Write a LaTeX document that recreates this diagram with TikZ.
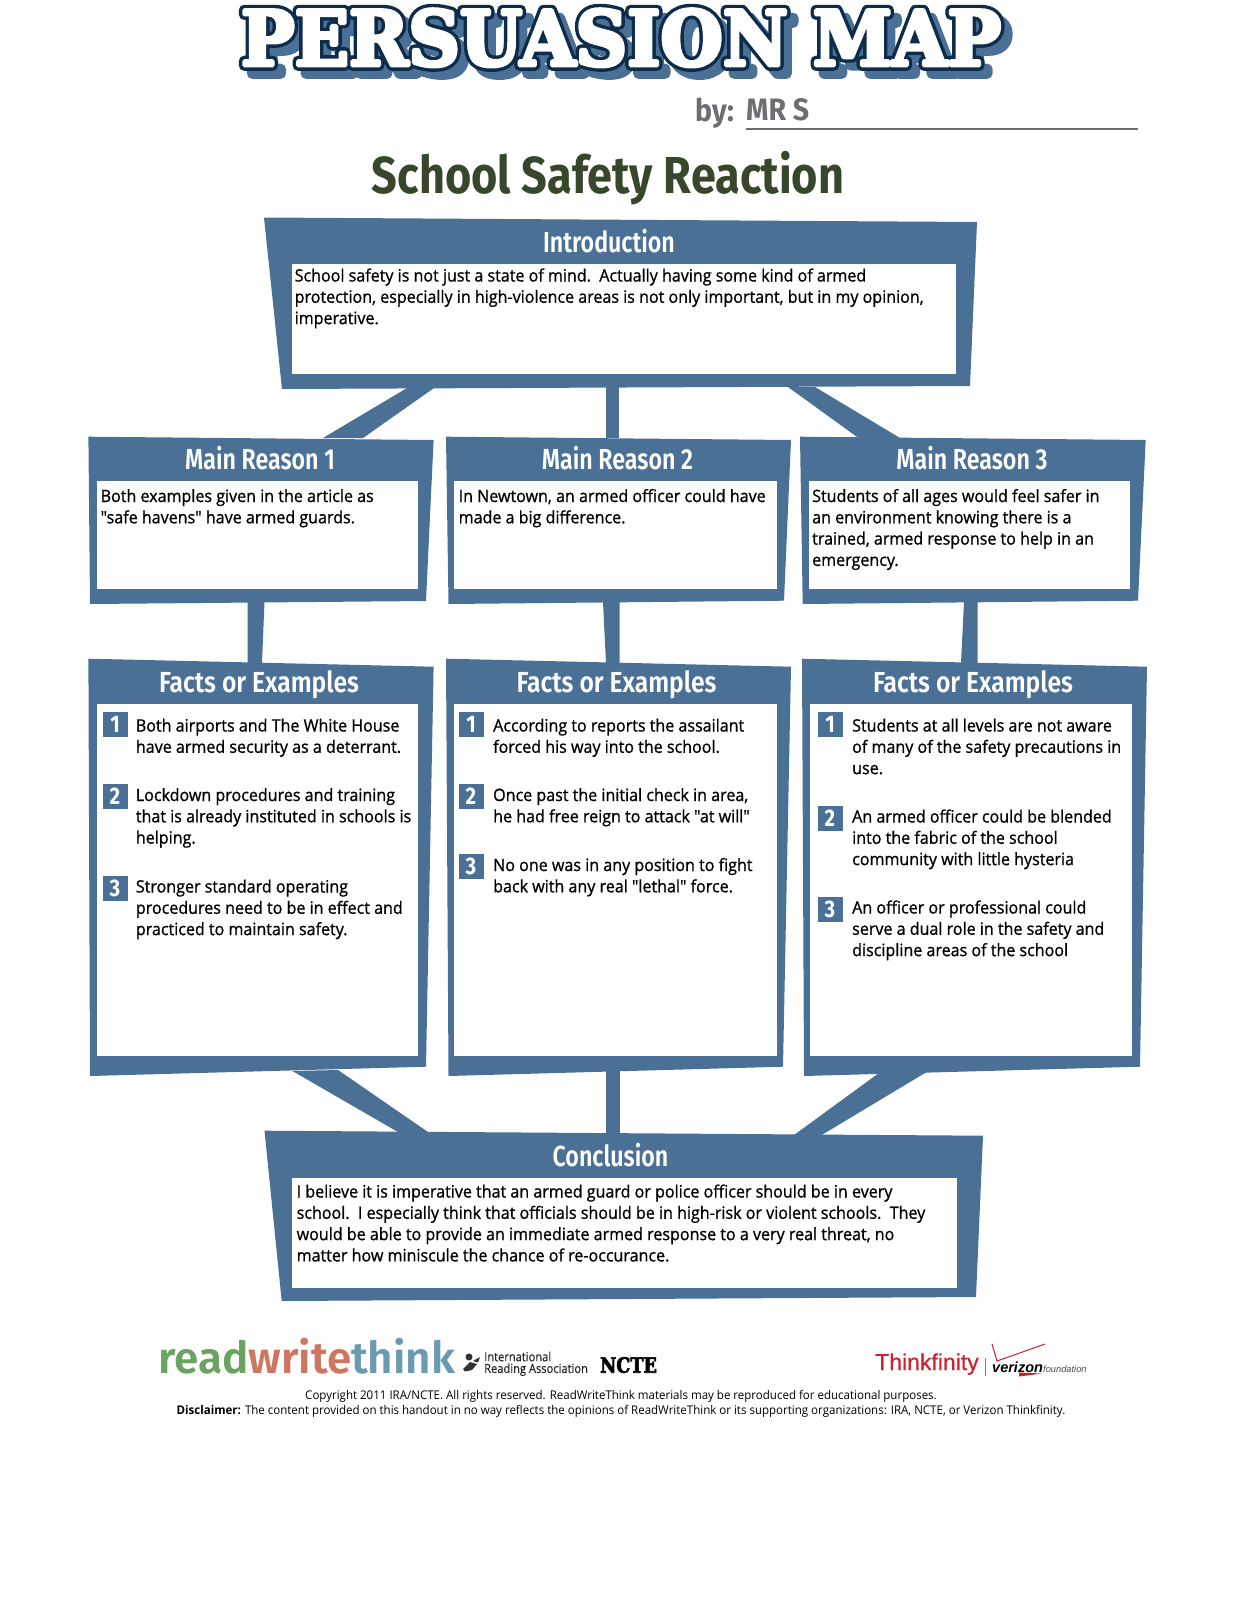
\documentclass[tikz,border=0pt]{standalone}
\usepackage{fontspec}
\setmainfont{Open Sans}
\newfontfamily\bodyf[FakeBold=0.9,FakeStretch=0.945]{Open Sans}
\newfontfamily\headf[FakeStretch=0.80]{Fira Sans SemiBold}
\newfontfamily\headfb[FakeStretch=0.85]{Fira Sans SemiBold}
\newfontfamily\numf[FakeStretch=0.85]{Fira Sans Bold}
\newfontfamily\bigf[FakeStretch=0.866]{Fira Sans Bold}
\newfontfamily\byf[FakeStretch=0.92]{Fira Sans Bold}
\newfontfamily\titlew[FakeStretch=0.94,FakeBold=5]{DejaVu Serif Bold}
\newfontfamily\titled[FakeStretch=0.94,FakeBold=14]{DejaVu Serif Bold}
\newfontfamily\logof[FakeStretch=1.0]{Fira Sans SemiBold}
\newfontfamily\narrowf[FakeStretch=0.89,FakeBold=0.3]{Open Sans}
\newfontfamily\smallf[FakeStretch=0.96]{Open Sans}
\newfontfamily\slabf[FakeStretch=0.84,FakeBold=3]{DejaVu Serif Bold}
\newfontfamily\vzf{Liberation Sans}
\newfontfamily\thf[FakeBold=0.5]{Liberation Sans}
\definecolor{panel}{RGB}{75,112,150}
\definecolor{navy}{RGB}{13,43,75}
\definecolor{ttl}{RGB}{54,71,43}
\definecolor{bygray}{RGB}{109,110,113}
\definecolor{lgreen}{RGB}{107,163,96}
\definecolor{lcoral}{RGB}{207,118,96}
\definecolor{lteal}{RGB}{108,155,175}
\definecolor{tred}{RGB}{206,32,47}
\tikzset{
  x=1pt,y=-1pt,
  panelshape/.style={fill=panel,draw=none},
  whitebox/.style={fill=white,draw=none,inner sep=0pt},
  bodytext/.style={anchor=north west,inner sep=0pt,align=left,text=black,font={\bodyf\fontsize{17}{21.3}\selectfont}},
  headtext/.style={anchor=base,inner sep=0pt,text=white,font={\headf\fontsize{29}{32}\selectfont}},
  factshead/.style={anchor=base,inner sep=0pt,text=white,font={\headfb\fontsize{29}{32}\selectfont}},
  numbox/.style={fill=panel,inner sep=0pt,text=white,font={\numf\fontsize{24}{26}\selectfont}},
  footer/.style={anchor=base,inner sep=0pt,text=black,font={\smallf\fontsize{12}{14}\selectfont}},
}
\newcommand{\whitepanel}[5]{\path[whitebox] (#2,#3) rectangle (#4,#5) coordinate[midway] (#1);}
\newcommand{\bodylines}[4]{\node[bodytext] (#1) at (#2,#3-14.7) {\rule{0pt}{14pt}#4};}
\newcommand{\numsq}[5]{\node[numbox,minimum width=25pt,minimum height=25pt] (#1) at (#2+12.5,#3+12.5) {#4};}
\begin{document}
\begin{tikzpicture}
\useasboundingbox (0,0) rectangle (1237,1600);
\fill[white] (0,0) rectangle (1237,1600);

% ---- title
\begin{scope}[line join=round,miter limit=1]
\node[anchor=base,inner sep=0pt,text=panel,font={\titled\fontsize{76}{80}\selectfont}] (titleshadow) at (629,73.5) {PERSUASION MAP};
\node[anchor=base,inner sep=0pt,text=navy,font={\titled\fontsize{76}{80}\selectfont}] (titleoutline) at (621,65.5) {PERSUASION MAP};
\node[anchor=base,inner sep=0pt,text=white,font={\titlew\fontsize{76}{80}\selectfont}] (title) at (621,65.5) {PERSUASION MAP};
\end{scope}

\node[anchor=base west,inner sep=0pt,text=bygray,font={\byf\fontsize{31}{32}\selectfont}] (by) at (695,122) {by:};
\node[anchor=base west,inner sep=0pt,text=bygray,font={\byf\fontsize{31}{32}\selectfont}] (author) at (746,121) {MR S};
\coordinate (lineA) at (746,128.7);
\coordinate (lineB) at (1138,128.7);
\draw[bygray,line width=2pt] (lineA) -- (lineB);
\node[anchor=base,inner sep=0pt,text=ttl,font={\bigf\fontsize{52}{54}\selectfont}] (maintitle) at (608,193) {School Safety Reaction};

% ---- connectors (behind boxes)
\fill[panelshape] (407,388) -- (434,388) -- (363,438) -- (323,438) -- cycle;
\fill[panelshape] (606,387) -- (619,387) -- (619,438) -- (606,438) -- cycle;
\fill[panelshape] (788,387) -- (815,387) -- (900,438) -- (858.5,438) -- cycle;
\fill[panelshape] (247.6,602) -- (264.5,602) -- (262,663) -- (247.6,663) -- cycle;
\fill[panelshape] (603,602) -- (619.6,602) -- (619.6,663) -- (606,663) -- cycle;
\fill[panelshape] (964,602) -- (977.7,602) -- (977.7,663) -- (961,663) -- cycle;
\fill[panelshape] (292.4,1071) -- (338,1070) -- (428,1132) -- (398,1132) -- cycle;
\fill[panelshape] (606,1071) -- (619.6,1071) -- (619.6,1134) -- (606,1134) -- cycle;
\fill[panelshape] (879,1073) -- (926.7,1072) -- (821.7,1135) -- (794,1135) -- cycle;

% ---- outer panels
\fill[panelshape] (264,217.5) -- (977,222) -- (970,386) -- (282,389) -- cycle;
\fill[panelshape] (88.4,436.7) -- (433.6,440) -- (426,601) -- (90,604) -- cycle;
\fill[panelshape] (446,436.7) -- (791,440) -- (784,600.7) -- (448.5,604) -- cycle;
\fill[panelshape] (800,436.7) -- (1145.7,440) -- (1138,600.7) -- (802.7,604) -- cycle;
\fill[panelshape] (88.4,658.7) -- (433.6,666.7) -- (426,1066.7) -- (90,1076) -- cycle;
\fill[panelshape] (446,658.7) -- (791,666.7) -- (783,1066.7) -- (448.5,1076) -- cycle;
\fill[panelshape] (802,658.7) -- (1147,666.7) -- (1140,1066.7) -- (804,1076) -- cycle;
\fill[panelshape] (264.5,1130.7) -- (983,1135.7) -- (976,1297) -- (281.7,1301) -- cycle;

% ---- white interiors
\whitepanel{introbox}{291.5}{264}{956}{374}
\whitepanel{mrA}{96.5}{481}{418}{589}
\whitepanel{mrB}{454}{481}{776.7}{589}
\whitepanel{mrC}{808.7}{481}{1130}{589}
\whitepanel{faA}{96.7}{704}{418}{1055.7}
\whitepanel{faB}{454}{704}{776.7}{1055.7}
\whitepanel{faC}{810}{704}{1132}{1055.7}
\whitepanel{concbox}{292}{1178}{956.7}{1288}

% ---- headings
\node[headtext] (hIntro) at (609,252) {Introduction};
\node[headtext] (hA) at (260,469) {Main Reason 1};
\node[headtext] (hB) at (617.5,469) {Main Reason 2};
\node[headtext] (hC) at (972,469) {Main Reason 3};
\node[factshead] (hFa) at (259,692.5) {Facts or Examples};
\node[factshead] (hFb) at (616.5,692.5) {Facts or Examples};
\node[factshead] (hFc) at (973,692.5) {Facts or Examples};
\node[headtext] (hConc) at (610.5,1166) {Conclusion};

% ---- body text
\bodylines{tIntro}{294.5}{282}{School safety is not just a state of mind.\ \ Actually having some kind of armed\\protection, especially in high-violence areas is not only important, but in my opinion,\\imperative.}
\bodylines{tA}{100.5}{502.5}{Both examples given in the article as\\"safe havens" have armed guards.}
\bodylines{tB}{458.5}{502.5}{In Newtown, an armed officer could have\\made a big difference.}
\bodylines{tC}{812}{502.5}{Students of all ages would feel safer in\\an environment knowing there is a\\trained, armed response to help in an\\emergency.}

\numsq{nA1}{102.5}{712}{1}{}
\numsq{nA2}{102.5}{784}{2}{}
\numsq{nA3}{102.5}{875.5}{3}{}
\bodylines{fA1}{135.7}{732}{Both airports and The White House\\have armed security as a deterrant.}
\bodylines{fA2}{135.7}{801.5}{Lockdown procedures and training\\that is already instituted in schools is\\helping.}
\bodylines{fA3}{135.7}{893}{Stronger standard operating\\procedures need to be in effect and\\practiced to maintain safety.}

\numsq{nB1}{458.5}{712}{1}{}
\numsq{nB2}{458.5}{784}{2}{}
\numsq{nB3}{458.5}{853.5}{3}{}
\bodylines{fB1}{493}{732}{According to reports the assailant\\forced his way into the school.}
\bodylines{fB2}{493}{801.5}{Once past the initial check in area,\\he had free reign to attack "at will"}
\bodylines{fB3}{493}{871.5}{No one was in any position to fight\\back with any real "lethal" force.}

\numsq{nC1}{817.5}{712}{1}{}
\numsq{nC2}{817.5}{805.5}{2}{}
\numsq{nC3}{817.5}{896.5}{3}{}
\bodylines{fC1}{852}{732}{Students at all levels are not aware\\of many of the safety precautions in\\use.}
\bodylines{fC2}{852}{823}{An armed officer could be blended\\into the fabric of the school\\community with little hysteria}
\bodylines{fC3}{852}{914}{An officer or professional could\\serve a dual role in the safety and\\discipline areas of the school}

\bodylines{tConc}{296.5}{1198}{I believe it is imperative that an armed guard or police officer should be in every\\school.\ \ I especially think that officials should be in high-risk or violent schools.\ \ They\\would be able to provide an immediate armed response to a very real threat, no\\matter how miniscule the chance of re-occurance.}

% ---- logos
\node[anchor=base west,inner sep=0pt,font={\logof\fontsize{44}{46}\selectfont}] (rwt) at (158,1373) {\textcolor{lgreen}{read}\textcolor{lcoral}{write}\textcolor{lteal}{think}};
\fill[black!80] (469,1357) circle (3.5);
\fill[black!80] (473,1361) -- (480,1357) -- (478,1362.5) -- cycle;
\fill[black!80] (470,1362) -- (477,1364) -- (472,1370) -- (465,1371.5) -- (463,1369) -- cycle;
\node[anchor=north west,inner sep=0pt,align=left,text=black!85,font={\narrowf\fontsize{12.5}{11.7}\selectfont}] (ira) at (484,1350) {\rule{0pt}{11pt}International\\Reading Association};
\node[anchor=base west,inner sep=0pt,text=black,font={\slabf\fontsize{21}{22}\selectfont}] (ncte) at (600,1372.7) {NCTE};
\node[anchor=base west,inner sep=0pt,text=tred,font={\thf\fontsize{23}{24}\selectfont}] (thinkf) at (875,1370) {Thinkfinity};
\coordinate (vA) at (985,1358);
\coordinate (vB) at (985,1376);
\draw[black!50,line width=.6pt] (vA) -- (vB);
\fill[tred] (1019,1372.5) -- (1042,1373.5) -- (1019,1376.5) -- cycle;
\node[anchor=base west,inner sep=0pt,text=black,font={\vzf\bfseries\itshape\fontsize{14.5}{16}\selectfont}] (verizon) at (992,1372) {verizon};
\node[anchor=base west,inner sep=0pt,text=black!70,font={\vzf\itshape\fontsize{9.3}{11}\selectfont}] (vfound) at (1043,1372) {foundation};
\coordinate (chA) at (992,1344);
\coordinate (chB) at (997,1361);
\coordinate (chC) at (1045,1344);
\draw[tred,line width=1pt] (chA) -- (chB) -- (chC);

% ---- footer
\node[footer] (copy) at (621,1399) {Copyright 2011 IRA/NCTE. All rights reserved. ReadWriteThink materials may be reproduced for educational purposes.};
\node[footer] (discl) at (621,1414) {\textbf{Disclaimer:} The content provided on this handout in no way reflects the opinions of ReadWriteThink or its supporting organizations: IRA, NCTE, or Verizon Thinkfinity.};
\end{tikzpicture}
\end{document}
